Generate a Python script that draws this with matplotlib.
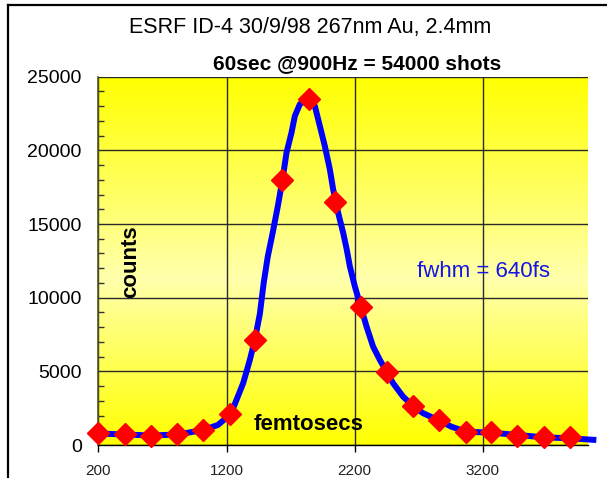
import numpy as np
import matplotlib.pyplot as plt
from matplotlib.colors import LinearSegmentedColormap
from matplotlib.lines import Line2D

plt.rcParams['font.family'] = ['Liberation Sans', 'DejaVu Sans']

# Measured points (red diamonds)
time_fs = [200, 410, 610, 815, 1020, 1230, 1425, 1635, 1840, 2050,
           2250, 2450, 2655, 2855, 3065, 3260, 3470, 3675, 3880]
counts = [800, 730, 610, 730, 1020, 2090, 7140, 18000, 23500, 16500,
          9400, 4950, 2650, 1700, 900, 900, 630, 520, 520]

# Smoothed curve (blue line)
curve_fs = [200, 408, 611, 821, 1016, 1133, 1234, 1330, 1382, 1421,
            1460, 1490, 1522, 1560, 1600, 1637, 1668, 1707, 1733, 1772, 1837,
            1889, 1928, 1967, 2006, 2032, 2053, 2071, 2110, 2138, 2162,
            2201, 2248, 2292, 2343, 2396, 2448, 2499, 2577, 2655, 2733,
            2850, 2954, 3066, 3261, 3474, 3668, 3882, 4085]
curve_counts = [780, 714, 646, 714, 1020, 1360, 2110, 4200, 5780, 7140,
                8900, 11000, 12800, 14400, 16200, 18030, 19840, 21200, 22330, 23130, 23540,
                23010, 21650, 20290, 18710, 17350, 16510, 15760, 14400, 13270, 12130,
                10770, 9370, 8050, 6690, 5780, 4990, 4200, 3290, 2650, 2160,
                1700, 1245, 905, 840, 680, 524, 456, 340]

x_ticks = [200, 1200, 2200, 3200]
y_ticks = [0, 5000, 10000, 15000, 20000, 25000]

x_min, x_max = 200, 4020
y_min, y_max = 0, 25000

fig = plt.figure(figsize=(6.07, 4.78), dpi=100)
ax = fig.add_axes([0.162, 0.069, 0.8067, 0.7706])

# yellow background gradient: yellow -> pale -> yellow
cmap = LinearSegmentedColormap.from_list(
    'bg', [(0.0, '#FFFF00'), (0.45, '#FFFFAC'), (1.0, '#FFFF00')])
grad = np.linspace(0, 1, 256).reshape(-1, 1)
ax.imshow(grad, extent=[x_min, x_max, y_min, y_max], origin='lower',
          aspect='auto', cmap=cmap, zorder=0)

ax.plot(curve_fs, curve_counts, color='#0000FF', lw=4.3, zorder=3,
        clip_on=False, solid_capstyle='butt', solid_joinstyle='round')
ax.plot(time_fs, counts, linestyle='none', marker='D', ms=11,
        color='#FF0000', mec='#FF0000', zorder=4, clip_on=False)

ax.set_xlim(x_min, x_max)
ax.set_ylim(y_min, y_max)

ax.set_xticks(x_ticks)
ax.set_xticklabels([str(t) for t in x_ticks], fontsize=11, color='#222222')
ax.set_yticks(y_ticks)
ax.set_yticklabels([str(t) for t in y_ticks], fontsize=14)
ax.set_yticks(np.arange(0, 25001, 1000), minor=True)

ax.tick_params(axis='x', direction='out', length=5, width=1, pad=9)
ax.tick_params(axis='y', which='major', direction='in', length=0, pad=12)
ax.tick_params(axis='y', which='minor', direction='in', length=4, width=1,
               color='#333333')

ax.grid(True, which='major', color='#2a2a2a', lw=1)
for gl in ax.get_xgridlines() + ax.get_ygridlines():
    gl.set_zorder(1)

for side in ['top', 'right']:
    ax.spines[side].set_visible(False)
ax.spines['left'].set_color('#555522')
ax.spines['left'].set_linewidth(1.2)
ax.spines['bottom'].set_color('#000000')
ax.spines['bottom'].set_linewidth(1)

# texts
fig.text(0.511, 0.9435, 'ESRF ID-4 30/9/98 267nm Au, 2.4mm',
         ha='center', va='center', fontsize=15.5)
fig.text(0.588, 0.868, '60sec @900Hz = 54000 shots',
         ha='center', va='center', fontsize=15, fontweight='bold')
fig.text(0.216, 0.452, 'counts', rotation=90, ha='center', va='center',
         fontsize=16, fontweight='bold')
fig.text(0.797, 0.431, 'fwhm = 640fs', ha='center', va='center',
         fontsize=16, color='#1414E6')
fig.text(0.509, 0.111, 'femtosecs', ha='center', va='center',
         fontsize=16, fontweight='bold')

# frame lines on left and top of the picture
fig.add_artist(Line2D([8 / 607, 8 / 607], [0, 1 - 5 / 478],
                      transform=fig.transFigure, color='black', lw=1.6))
fig.add_artist(Line2D([8 / 607, 1], [1 - 5 / 478, 1 - 5 / 478],
                      transform=fig.transFigure, color='black', lw=1.6))

fig.savefig('out.png', dpi=100)
